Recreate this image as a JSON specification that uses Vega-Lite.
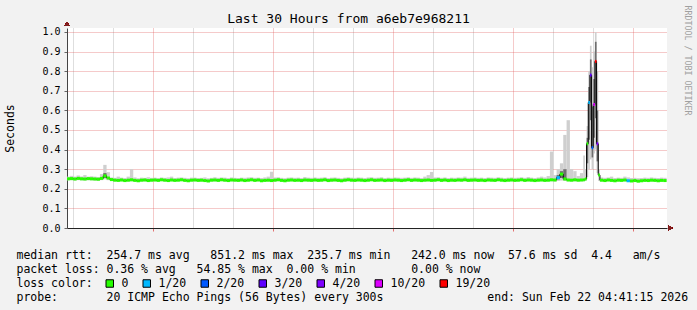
{
  "$schema": "https://vega.github.io/schema/vega-lite/v6.json",
  "width": 600,
  "height": 200,
  "autosize": {"type": "none"},
  "padding": {"left": 67, "top": 28, "right": 30, "bottom": 82},
  "background": "#f2f2f2",
  "config": {"view": {"fill": "#ffffff", "stroke": null}, "font": "DejaVu Sans Mono"},
  "title": {"text": "Last 30 Hours from a6eb7e968211", "font": "DejaVu Sans Mono", "fontSize": 13, "fontWeight": "normal", "color": "#000000", "anchor": "middle", "frame": "group", "dx": -18.5, "offset": -30.5, "baseline": "alphabetic"},
  "data": {"values": [
    {"t":-80,"t2":-70,"m":0.251,"lo":0.243,"hi":0.262,"l":"0"},
    {"t":-70,"t2":-60,"m":0.252,"lo":0.244,"hi":0.266,"l":"0"},
    {"t":-60,"t2":-50,"m":0.250,"lo":0.242,"hi":0.262,"l":"0"},
    {"t":-50,"t2":-40,"m":0.253,"lo":0.244,"hi":0.268,"l":"0"},
    {"t":-40,"t2":-30,"m":0.251,"lo":0.243,"hi":0.263,"l":"0"},
    {"t":-30,"t2":-20,"m":0.250,"lo":0.242,"hi":0.270,"l":"0"},
    {"t":-20,"t2":-10,"m":0.252,"lo":0.244,"hi":0.262,"l":"0"},
    {"t":-10,"t2":0,"m":0.251,"lo":0.243,"hi":0.264,"l":"0"},
    {"t":0,"t2":10,"m":0.250,"lo":0.242,"hi":0.262,"l":"0"},
    {"t":10,"t2":20,"m":0.249,"lo":0.241,"hi":0.260,"l":"0"},
    {"t":20,"t2":30,"m":0.253,"lo":0.244,"hi":0.275,"l":"0"},
    {"t":30,"t2":40,"m":0.266,"lo":0.248,"hi":0.322,"lo2":0.255,"hi2":0.280,"l":"0"},
    {"t":40,"t2":50,"m":0.255,"lo":0.244,"hi":0.285,"l":"0"},
    {"t":50,"t2":60,"m":0.247,"lo":0.240,"hi":0.258,"l":"0"},
    {"t":60,"t2":70,"m":0.244,"lo":0.238,"hi":0.256,"l":"0"},
    {"t":70,"t2":80,"m":0.243,"lo":0.237,"hi":0.262,"l":"0"},
    {"t":80,"t2":90,"m":0.245,"lo":0.238,"hi":0.257,"l":"0"},
    {"t":90,"t2":100,"m":0.242,"lo":0.236,"hi":0.255,"l":"0"},
    {"t":100,"t2":110,"m":0.244,"lo":0.237,"hi":0.262,"l":"0"},
    {"t":110,"t2":120,"m":0.246,"lo":0.238,"hi":0.300,"l":"0"},
    {"t":120,"t2":130,"m":0.243,"lo":0.237,"hi":0.258,"l":"0"},
    {"t":130,"t2":140,"m":0.241,"lo":0.235,"hi":0.254,"l":"0"},
    {"t":140,"t2":150,"m":0.244,"lo":0.237,"hi":0.257,"l":"0"},
    {"t":150,"t2":160,"m":0.245,"lo":0.238,"hi":0.256,"l":"0"},
    {"t":160,"t2":170,"m":0.242,"lo":0.236,"hi":0.259,"l":"0"},
    {"t":170,"t2":180,"m":0.244,"lo":0.237,"hi":0.256,"l":"0"},
    {"t":180,"t2":190,"m":0.245,"lo":0.238,"hi":0.257,"l":"0"},
    {"t":190,"t2":200,"m":0.243,"lo":0.237,"hi":0.255,"l":"0"},
    {"t":200,"t2":210,"m":0.246,"lo":0.239,"hi":0.258,"l":"0"},
    {"t":210,"t2":220,"m":0.244,"lo":0.237,"hi":0.256,"l":"0"},
    {"t":220,"t2":230,"m":0.242,"lo":0.236,"hi":0.258,"l":"0"},
    {"t":230,"t2":240,"m":0.245,"lo":0.238,"hi":0.262,"l":"0"},
    {"t":240,"t2":250,"m":0.243,"lo":0.236,"hi":0.255,"l":"0"},
    {"t":250,"t2":260,"m":0.244,"lo":0.238,"hi":0.257,"l":"0"},
    {"t":260,"t2":270,"m":0.246,"lo":0.239,"hi":0.258,"l":"0"},
    {"t":270,"t2":280,"m":0.243,"lo":0.237,"hi":0.256,"l":"0"},
    {"t":280,"t2":290,"m":0.241,"lo":0.235,"hi":0.254,"l":"0"},
    {"t":290,"t2":300,"m":0.244,"lo":0.237,"hi":0.257,"l":"0"},
    {"t":300,"t2":310,"m":0.245,"lo":0.238,"hi":0.257,"l":"0"},
    {"t":310,"t2":320,"m":0.243,"lo":0.237,"hi":0.255,"l":"0"},
    {"t":320,"t2":330,"m":0.244,"lo":0.237,"hi":0.256,"l":"0"},
    {"t":330,"t2":340,"m":0.242,"lo":0.236,"hi":0.258,"l":"0"},
    {"t":340,"t2":350,"m":0.240,"lo":0.234,"hi":0.254,"l":"0"},
    {"t":350,"t2":360,"m":0.244,"lo":0.237,"hi":0.256,"l":"0"},
    {"t":360,"t2":370,"m":0.245,"lo":0.238,"hi":0.259,"l":"0"},
    {"t":370,"t2":380,"m":0.243,"lo":0.236,"hi":0.256,"l":"0"},
    {"t":380,"t2":390,"m":0.246,"lo":0.239,"hi":0.258,"l":"0"},
    {"t":390,"t2":400,"m":0.244,"lo":0.237,"hi":0.257,"l":"0"},
    {"t":400,"t2":410,"m":0.242,"lo":0.236,"hi":0.255,"l":"0"},
    {"t":410,"t2":420,"m":0.245,"lo":0.238,"hi":0.258,"l":"0"},
    {"t":420,"t2":430,"m":0.244,"lo":0.237,"hi":0.256,"l":"0"},
    {"t":430,"t2":440,"m":0.243,"lo":0.236,"hi":0.255,"l":"0"},
    {"t":440,"t2":450,"m":0.245,"lo":0.238,"hi":0.257,"l":"0"},
    {"t":450,"t2":460,"m":0.242,"lo":0.236,"hi":0.256,"l":"0"},
    {"t":460,"t2":470,"m":0.244,"lo":0.237,"hi":0.258,"l":"0"},
    {"t":470,"t2":480,"m":0.246,"lo":0.239,"hi":0.259,"l":"0"},
    {"t":480,"t2":490,"m":0.243,"lo":0.237,"hi":0.256,"l":"0"},
    {"t":490,"t2":500,"m":0.245,"lo":0.238,"hi":0.257,"l":"0"},
    {"t":500,"t2":510,"m":0.241,"lo":0.235,"hi":0.255,"l":"0"},
    {"t":510,"t2":520,"m":0.243,"lo":0.236,"hi":0.258,"l":"0"},
    {"t":520,"t2":530,"m":0.244,"lo":0.237,"hi":0.262,"l":"0"},
    {"t":530,"t2":540,"m":0.242,"lo":0.236,"hi":0.287,"l":"0"},
    {"t":540,"t2":550,"m":0.244,"lo":0.237,"hi":0.258,"l":"0"},
    {"t":550,"t2":560,"m":0.246,"lo":0.239,"hi":0.259,"l":"0"},
    {"t":560,"t2":570,"m":0.243,"lo":0.236,"hi":0.256,"l":"0"},
    {"t":570,"t2":580,"m":0.241,"lo":0.235,"hi":0.254,"l":"0"},
    {"t":580,"t2":590,"m":0.244,"lo":0.237,"hi":0.257,"l":"0"},
    {"t":590,"t2":600,"m":0.245,"lo":0.238,"hi":0.258,"l":"0"},
    {"t":600,"t2":610,"m":0.243,"lo":0.237,"hi":0.256,"l":"0"},
    {"t":610,"t2":620,"m":0.244,"lo":0.237,"hi":0.257,"l":"0"},
    {"t":620,"t2":630,"m":0.242,"lo":0.236,"hi":0.255,"l":"0"},
    {"t":630,"t2":640,"m":0.245,"lo":0.238,"hi":0.260,"l":"0"},
    {"t":640,"t2":650,"m":0.244,"lo":0.237,"hi":0.257,"l":"0"},
    {"t":650,"t2":660,"m":0.243,"lo":0.236,"hi":0.256,"l":"0"},
    {"t":660,"t2":670,"m":0.245,"lo":0.238,"hi":0.258,"l":"0"},
    {"t":670,"t2":680,"m":0.243,"lo":0.237,"hi":0.256,"l":"0"},
    {"t":680,"t2":690,"m":0.244,"lo":0.237,"hi":0.257,"l":"0"},
    {"t":690,"t2":700,"m":0.246,"lo":0.239,"hi":0.259,"l":"0"},
    {"t":700,"t2":710,"m":0.242,"lo":0.236,"hi":0.255,"l":"0"},
    {"t":710,"t2":720,"m":0.244,"lo":0.237,"hi":0.257,"l":"0"},
    {"t":720,"t2":730,"m":0.245,"lo":0.238,"hi":0.258,"l":"0"},
    {"t":730,"t2":740,"m":0.243,"lo":0.236,"hi":0.256,"l":"0"},
    {"t":740,"t2":750,"m":0.241,"lo":0.235,"hi":0.254,"l":"0"},
    {"t":750,"t2":760,"m":0.244,"lo":0.237,"hi":0.257,"l":"0"},
    {"t":760,"t2":770,"m":0.246,"lo":0.239,"hi":0.259,"l":"0"},
    {"t":770,"t2":780,"m":0.244,"lo":0.237,"hi":0.257,"l":"0"},
    {"t":780,"t2":790,"m":0.243,"lo":0.236,"hi":0.256,"l":"0"},
    {"t":790,"t2":800,"m":0.245,"lo":0.238,"hi":0.258,"l":"0"},
    {"t":800,"t2":810,"m":0.244,"lo":0.237,"hi":0.257,"l":"0"},
    {"t":810,"t2":820,"m":0.242,"lo":0.236,"hi":0.255,"l":"0"},
    {"t":820,"t2":830,"m":0.244,"lo":0.237,"hi":0.258,"l":"0"},
    {"t":830,"t2":840,"m":0.246,"lo":0.239,"hi":0.259,"l":"0"},
    {"t":840,"t2":850,"m":0.243,"lo":0.236,"hi":0.256,"l":"0"},
    {"t":850,"t2":860,"m":0.244,"lo":0.238,"hi":0.257,"l":"0"},
    {"t":860,"t2":870,"m":0.245,"lo":0.238,"hi":0.259,"l":"0"},
    {"t":870,"t2":880,"m":0.242,"lo":0.236,"hi":0.255,"l":"0"},
    {"t":880,"t2":890,"m":0.244,"lo":0.237,"hi":0.257,"l":"0"},
    {"t":890,"t2":900,"m":0.243,"lo":0.236,"hi":0.256,"l":"0"},
    {"t":900,"t2":910,"m":0.245,"lo":0.238,"hi":0.258,"l":"0"},
    {"t":910,"t2":920,"m":0.244,"lo":0.237,"hi":0.257,"l":"0"},
    {"t":920,"t2":930,"m":0.242,"lo":0.236,"hi":0.256,"l":"0"},
    {"t":930,"t2":940,"m":0.244,"lo":0.237,"hi":0.257,"l":"0"},
    {"t":940,"t2":950,"m":0.246,"lo":0.239,"hi":0.259,"l":"0"},
    {"t":950,"t2":960,"m":0.243,"lo":0.236,"hi":0.256,"l":"0"},
    {"t":960,"t2":970,"m":0.245,"lo":0.238,"hi":0.258,"l":"0"},
    {"t":970,"t2":980,"m":0.244,"lo":0.237,"hi":0.257,"l":"0"},
    {"t":980,"t2":990,"m":0.242,"lo":0.235,"hi":0.255,"l":"0"},
    {"t":990,"t2":1000,"m":0.244,"lo":0.237,"hi":0.262,"l":"0"},
    {"t":1000,"t2":1010,"m":0.245,"lo":0.238,"hi":0.270,"l":"0"},
    {"t":1010,"t2":1020,"m":0.243,"lo":0.236,"hi":0.286,"l":"0"},
    {"t":1020,"t2":1030,"m":0.244,"lo":0.237,"hi":0.258,"l":"0"},
    {"t":1030,"t2":1040,"m":0.246,"lo":0.239,"hi":0.259,"l":"0"},
    {"t":1040,"t2":1050,"m":0.243,"lo":0.236,"hi":0.256,"l":"0"},
    {"t":1050,"t2":1060,"m":0.245,"lo":0.238,"hi":0.258,"l":"0"},
    {"t":1060,"t2":1070,"m":0.242,"lo":0.236,"hi":0.255,"l":"0"},
    {"t":1070,"t2":1080,"m":0.244,"lo":0.237,"hi":0.257,"l":"0"},
    {"t":1080,"t2":1090,"m":0.243,"lo":0.236,"hi":0.256,"l":"0"},
    {"t":1090,"t2":1100,"m":0.245,"lo":0.238,"hi":0.258,"l":"0"},
    {"t":1100,"t2":1110,"m":0.244,"lo":0.237,"hi":0.257,"l":"0"},
    {"t":1110,"t2":1120,"m":0.246,"lo":0.239,"hi":0.262,"l":"0"},
    {"t":1120,"t2":1130,"m":0.243,"lo":0.236,"hi":0.256,"l":"0"},
    {"t":1130,"t2":1140,"m":0.244,"lo":0.237,"hi":0.257,"l":"0"},
    {"t":1140,"t2":1150,"m":0.245,"lo":0.238,"hi":0.258,"l":"0"},
    {"t":1150,"t2":1160,"m":0.243,"lo":0.236,"hi":0.256,"l":"0"},
    {"t":1160,"t2":1170,"m":0.244,"lo":0.237,"hi":0.257,"l":"0"},
    {"t":1170,"t2":1180,"m":0.242,"lo":0.236,"hi":0.255,"l":"0"},
    {"t":1180,"t2":1190,"m":0.245,"lo":0.238,"hi":0.258,"l":"0"},
    {"t":1190,"t2":1200,"m":0.244,"lo":0.237,"hi":0.257,"l":"0"},
    {"t":1200,"t2":1210,"m":0.243,"lo":0.236,"hi":0.256,"l":"0"},
    {"t":1210,"t2":1220,"m":0.246,"lo":0.239,"hi":0.259,"l":"0"},
    {"t":1220,"t2":1230,"m":0.244,"lo":0.237,"hi":0.257,"l":"0"},
    {"t":1230,"t2":1240,"m":0.242,"lo":0.236,"hi":0.255,"l":"0"},
    {"t":1240,"t2":1250,"m":0.244,"lo":0.237,"hi":0.257,"l":"0"},
    {"t":1250,"t2":1260,"m":0.245,"lo":0.238,"hi":0.258,"l":"0"},
    {"t":1260,"t2":1270,"m":0.243,"lo":0.236,"hi":0.256,"l":"0"},
    {"t":1270,"t2":1280,"m":0.244,"lo":0.237,"hi":0.257,"l":"0"},
    {"t":1280,"t2":1290,"m":0.246,"lo":0.239,"hi":0.259,"l":"0"},
    {"t":1290,"t2":1300,"m":0.243,"lo":0.236,"hi":0.256,"l":"0"},
    {"t":1300,"t2":1310,"m":0.245,"lo":0.238,"hi":0.260,"l":"0"},
    {"t":1310,"t2":1320,"m":0.244,"lo":0.237,"hi":0.257,"l":"0"},
    {"t":1320,"t2":1330,"m":0.242,"lo":0.235,"hi":0.255,"l":"0"},
    {"t":1330,"t2":1340,"m":0.244,"lo":0.237,"hi":0.258,"l":"0"},
    {"t":1340,"t2":1350,"m":0.245,"lo":0.238,"hi":0.262,"l":"0"},
    {"t":1350,"t2":1360,"m":0.243,"lo":0.236,"hi":0.258,"l":"0"},
    {"t":1360,"t2":1370,"m":0.244,"lo":0.237,"hi":0.265,"l":"0"},
    {"t":1370,"t2":1380,"m":0.246,"lo":0.238,"hi":0.390,"l":"0"},
    {"t":1380,"t2":1390,"m":0.245,"lo":0.237,"hi":0.270,"l":"0"},
    {"t":1390,"t2":1400,"m":0.257,"lo":0.240,"hi":0.300,"lo2":0.248,"hi2":0.270,"l":"1/20"},
    {"t":1400,"t2":1410,"m":0.275,"lo":0.242,"hi":0.330,"lo2":0.255,"hi2":0.290,"l":"0"},
    {"t":1410,"t2":1420,"m":0.250,"lo":0.240,"hi":0.475,"lo2":0.245,"hi2":0.300,"l":"0"},
    {"t":1420,"t2":1430,"m":0.245,"lo":0.238,"hi":0.550,"l":"0"},
    {"t":1430,"t2":1440,"m":0.244,"lo":0.237,"hi":0.300,"l":"0"},
    {"t":1440,"t2":1450,"m":0.246,"lo":0.238,"hi":0.290,"l":"0"},
    {"t":1450,"t2":1460,"m":0.244,"lo":0.237,"hi":0.265,"l":"0"},
    {"t":1460,"t2":1470,"m":0.245,"lo":0.238,"hi":0.280,"l":"0"},
    {"t":1470,"t2":1475,"m":0.246,"lo":0.238,"hi":0.370,"l":"0"},
    {"t":1475,"t2":1480,"m":0.250,"lo":0.240,"hi":0.300,"l":"0"},
    {"t":1480,"t2":1485,"m":0.430,"lo":0.260,"hi":0.520,"lo2":0.330,"hi2":0.460,"l":"0"},
    {"t":1485,"t2":1490,"m":0.640,"lo":0.300,"hi":0.800,"lo2":0.450,"hi2":0.720,"l":"1/20"},
    {"t":1490,"t2":1495,"m":0.780,"lo":0.350,"hi":0.930,"lo2":0.550,"hi2":0.860,"l":"3/20"},
    {"t":1495,"t2":1500,"m":0.410,"lo":0.300,"hi":0.820,"lo2":0.360,"hi2":0.620,"l":"2/20"},
    {"t":1500,"t2":1505,"m":0.630,"lo":0.380,"hi":0.900,"lo2":0.460,"hi2":0.760,"l":"10/20"},
    {"t":1505,"t2":1510,"m":0.850,"lo":0.400,"hi":1.000,"lo2":0.560,"hi2":0.950,"l":"19/20"},
    {"t":1510,"t2":1515,"m":0.430,"lo":0.280,"hi":0.800,"lo2":0.340,"hi2":0.600,"l":"4/20"},
    {"t":1515,"t2":1520,"m":0.270,"lo":0.240,"hi":0.300,"l":"0"},
    {"t":1520,"t2":1530,"m":0.244,"lo":0.237,"hi":0.258,"l":"0"},
    {"t":1530,"t2":1540,"m":0.242,"lo":0.236,"hi":0.256,"l":"0"},
    {"t":1540,"t2":1550,"m":0.245,"lo":0.238,"hi":0.258,"l":"0"},
    {"t":1550,"t2":1560,"m":0.243,"lo":0.236,"hi":0.262,"l":"0"},
    {"t":1560,"t2":1570,"m":0.241,"lo":0.235,"hi":0.255,"l":"0"},
    {"t":1570,"t2":1580,"m":0.244,"lo":0.237,"hi":0.257,"l":"0"},
    {"t":1580,"t2":1590,"m":0.243,"lo":0.236,"hi":0.256,"l":"0"},
    {"t":1590,"t2":1600,"m":0.245,"lo":0.238,"hi":0.262,"l":"0"},
    {"t":1600,"t2":1610,"m":0.241,"lo":0.235,"hi":0.258,"l":"1/20"},
    {"t":1610,"t2":1620,"m":0.240,"lo":0.234,"hi":0.255,"l":"0"},
    {"t":1620,"t2":1630,"m":0.242,"lo":0.236,"hi":0.256,"l":"0"},
    {"t":1630,"t2":1640,"m":0.239,"lo":0.233,"hi":0.254,"l":"0"},
    {"t":1640,"t2":1650,"m":0.241,"lo":0.235,"hi":0.255,"l":"0"},
    {"t":1650,"t2":1660,"m":0.243,"lo":0.236,"hi":0.257,"l":"0"},
    {"t":1660,"t2":1670,"m":0.242,"lo":0.236,"hi":0.256,"l":"0"},
    {"t":1670,"t2":1680,"m":0.244,"lo":0.237,"hi":0.258,"l":"0"},
    {"t":1680,"t2":1690,"m":0.243,"lo":0.236,"hi":0.256,"l":"0"},
    {"t":1690,"t2":1700,"m":0.241,"lo":0.235,"hi":0.255,"l":"0"},
    {"t":1700,"t2":1710,"m":0.243,"lo":0.236,"hi":0.257,"l":"0"},
    {"t":1710,"t2":1720,"m":0.242,"lo":0.236,"hi":0.256,"l":"0"}
  ]},
  "layer": [
    {
      "mark": {"type": "rect", "color": "#cfcfcf", "clip": true},
      "encoding": {
        "x": {"field": "t", "type": "quantitative",
          "scale": {"domain": [-78.75, 1721.25], "nice": false, "zero": false},
          "axis": {
            "values": [-60,0,60,120,180,240,300,360,420,480,540,600,660,720,780,840,900,960,1020,1080,1140,1200,1260,1320,1380,1440,1500,1560,1620,1680],
            "orient": "bottom",
            "grid": true, "gridDash": [1, 1], "gridWidth": 1,
            "gridColor": {"condition": {"test": "datum.value % 180 === 0", "value": "rgba(222,79,79,0.6)"}, "value": "rgba(143,143,143,0.6)"},
            "domainColor": "#222222", "domainWidth": 1,
            "ticks": true, "tickSize": 3, "tickColor": "rgba(222,79,79,0.8)",
            "tickOpacity": {"condition": {"test": "datum.value % 180 === 0", "value": 1}, "value": 0},
            "labelExpr": "datum.value % 360 === 0 ? ['Sat 00:00','Sat 06:00','Sat 12:00','Sat 18:00','Sun 00:00'][datum.value / 360] : ''",
            "labelFont": "DejaVu Sans Mono", "labelFontSize": 10, "labelColor": "#000000", "labelPadding": 2,
            "labelAngle": 0, "labelOverlap": false, "labelFlush": false, "labelBound": false,
            "title": [
              "median rtt:\u00a0\u00a0254.7 ms avg\u00a0\u00a0\u00a0851.2 ms max\u00a0\u00a0235.7 ms min\u00a0\u00a0\u00a0242.0 ms now\u00a0\u00a057.6 ms sd\u00a0\u00a04.4\u00a0\u00a0\u00a0am/s",
              "packet loss:\u00a00.36 % avg\u00a0\u00a0\u00a054.85 % max\u00a0\u00a00.00 % min\u00a0\u00a0\u00a0\u00a0\u00a0\u00a0\u00a0\u00a00.00 % now",
              "loss color:",
              "probe:\u00a0\u00a0\u00a0\u00a0\u00a0\u00a0\u00a020 ICMP Echo Pings (56 Bytes) every 300s\u00a0\u00a0\u00a0\u00a0\u00a0\u00a0\u00a0\u00a0\u00a0\u00a0\u00a0\u00a0\u00a0\u00a0\u00a0end: Sun Feb 22 04:41:15 2026"
            ],
            "titleFont": "DejaVu Sans Mono", "titleFontSize": 11.5, "titleFontWeight": "normal", "titleColor": "#000000",
            "titleAnchor": "start", "titleAlign": "left", "titleBaseline": "alphabetic",
            "titleX": -51, "titleY": 30, "titleLineHeight": 14
          }
        },
        "x2": {"field": "t2"},
        "y": {"field": "lo", "type": "quantitative",
          "scale": {"domain": [0, 1.0204], "nice": false, "zero": true},
          "axis": {
            "values": [0,0.1,0.2,0.3,0.4,0.5,0.6,0.7,0.8,0.9,1.0],
            "format": ".1f",
            "grid": true, "gridDash": [1, 1], "gridWidth": 1, "gridColor": "rgba(222,79,79,0.6)",
            "domainColor": "#444444", "domainWidth": 1,
            "ticks": true, "tickSize": 3, "tickColor": "#666666",
            "labelFont": "DejaVu Sans Mono", "labelFontSize": 10, "labelColor": "#000000", "labelPadding": 4,
            "title": "Seconds", "titleFont": "DejaVu Sans Mono", "titleFontSize": 11.5, "titleFontWeight": "normal", "titleColor": "#000000",
            "titleAngle": -90, "titleX": -57, "titleY": 100, "titleAlign": "center", "titleBaseline": "middle"
          }
        },
        "y2": {"field": "hi"}
      }
    },
    {
      "mark": {"type": "rect", "color": "#6e6e6e", "clip": true},
      "encoding": {
        "x": {"field": "t", "type": "quantitative"},
        "x2": {"field": "t2"},
        "y": {"field": "lo2", "type": "quantitative", "axis": null},
        "y2": {"field": "hi2"}
      }
    },
    {
      "mark": {"type": "line", "interpolate": "step-after", "color": "#000000", "strokeWidth": 1, "clip": true},
      "encoding": {
        "x": {"field": "t", "type": "quantitative"},
        "y": {"field": "m", "type": "quantitative",
          "axis": {"orient": "right", "labels": false, "ticks": false, "domain": false, "grid": false,
            "title": "RRDTOOL / TOBI OETIKER", "titleFont": "DejaVu Sans Mono", "titleFontSize": 8.3, "titleFontWeight": "normal",
            "titleColor": "#a0a0a0", "titleAngle": 90, "titleX": 19.5, "titleY": 32, "titleAlign": "center", "titleBaseline": "middle"}
        }
      }
    },
    {
      "mark": {"type": "rule", "strokeWidth": 3, "strokeCap": "butt", "clip": true},
      "encoding": {
        "x": {"field": "t", "type": "quantitative"},
        "x2": {"field": "t2"},
        "y": {"field": "m", "type": "quantitative", "axis": null},
        "color": {"field": "l", "type": "nominal",
          "scale": {"domain": ["0","1/20","2/20","3/20","4/20","10/20","19/20"], "range": ["#26ff00","#00b8ff","#0059ff","#5e00ff","#7e00ff","#dd00ff","#ff0000"]},
          "legend": null}
      }
    },
    {
      "transform": [{"filter": "datum.t < -1000"}],
      "mark": {"type": "square", "filled": true, "stroke": "#000000", "strokeWidth": 1, "opacity": 1},
      "encoding": {
        "x": {"field": "t", "type": "quantitative"},
        "y": {"field": "m", "type": "quantitative", "axis": null},
        "color": {"field": "l", "type": "nominal",
          "scale": {"domain": ["0","1/20","2/20","3/20","4/20","10/20","19/20"], "range": ["#26ff00","#00b8ff","#0059ff","#5e00ff","#7e00ff","#dd00ff","#ff0000"]},
          "legend": {"orient": "none", "legendX": 37, "legendY": 249.5, "direction": "horizontal",
            "title": null,
            "labelFont": "DejaVu Sans Mono", "labelFontSize": 11.5, "labelColor": "#000000", "labelOffset": 6,
            "symbolType": "square", "symbolSize": 56, "symbolStrokeColor": "#000000", "symbolStrokeWidth": 1, "symbolOpacity": 1,
            "columnPadding": 12, "padding": 0}
        }
      }
    },
    {
      "mark": {"type": "point", "shape": "triangle-up", "filled": true, "color": "#801f1f", "size": 22, "opacity": 1, "clip": false},
      "encoding": {
        "x": {"datum": -78.75, "type": "quantitative"},
        "y": {"datum": 1.041, "type": "quantitative", "axis": null}
      }
    },
    {
      "mark": {"type": "point", "shape": "triangle-right", "filled": true, "color": "#801f1f", "size": 22, "opacity": 1, "clip": false},
      "encoding": {
        "x": {"datum": 1731, "type": "quantitative"},
        "y": {"datum": 0, "type": "quantitative", "axis": null}
      }
    }
  ],
  "resolve": {"axis": {"y": "independent"}, "legend": {"color": "independent"}}
}
